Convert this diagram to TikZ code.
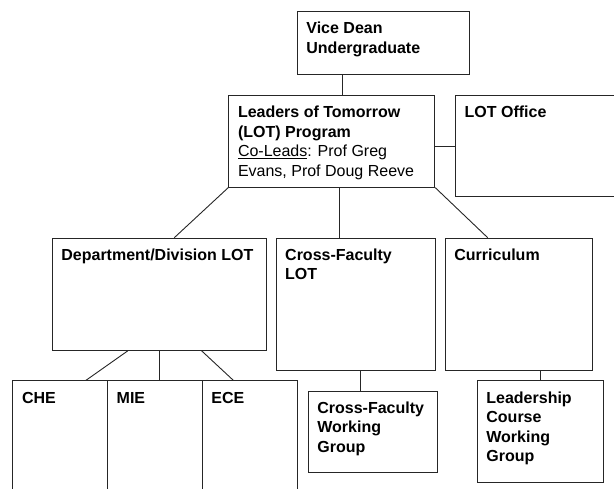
\documentclass[tikz,border=0pt]{standalone}
\usepackage{fontspec}
\setmainfont{Liberation Sans}
% strut that fixes the height of the first line of every label
\newcommand\hdstrut{\rule{0pt}{13pt}}
\begin{document}
\begin{tikzpicture}[x=1pt,y=-1pt,
  box/.style={draw=black!85, line width=0.9pt, inner sep=0pt, anchor=north west},
  txt/.style={anchor=north west, inner sep=0pt, align=left,
              font=\fontsize{16}{19.5}\selectfont\bfseries},
  link/.style={draw=black!85, line width=0.9pt}]
\clip (0,0) rectangle (614,489);

% boxes
\node[box, minimum width=172.6, minimum height=63]    (vd)   at (296.7,11)    {};
\node[box, minimum width=206,   minimum height=91.4]  (lot)  at (228.3,95.3)  {};
\node[box, minimum width=170,   minimum height=100.7] (off)  at (455,95.3)    {};
\node[box, minimum width=214,   minimum height=112.3] (dept) at (51.7,237.7)  {};
\node[box, minimum width=159,   minimum height=132.6] (cfl)  at (275.5,237.7) {};
\node[box, minimum width=147.6, minimum height=132.6] (cur)  at (444.7,237.7) {};
\node[box, minimum width=94.7,  minimum height=120]   (che)  at (12.3,380.3)  {};
\node[box, minimum width=94.7,  minimum height=120]   (mie)  at (107,380.3)   {};
\node[box, minimum width=95,    minimum height=120]   (ece)  at (201.7,380.3) {};
\node[box, minimum width=129.6, minimum height=81.3]  (cfwg) at (307.7,390.7) {};
\node[box, minimum width=126.3, minimum height=101.7] (lcwg) at (476.7,380.3) {};

% labels
\node[txt] (t-vd)   at ([shift={(9.5,9.5)}]vd.north west)   {\hdstrut Vice Dean\\Undergraduate};
\node[txt] (t-lot)  at ([shift={(9.5,9.5)}]lot.north west)  {\hdstrut Leaders of Tomorrow\\(LOT) Program\\
  \mdseries\underline{Co-Leads}: Prof Greg\\\mdseries Evans, Prof Doug Reeve};
\node[txt] (t-off)  at ([shift={(9.5,9.5)}]off.north west)  {\hdstrut LOT Office};
\node[txt] (t-dept) at ([shift={(9.5,9.5)}]dept.north west) {\hdstrut Department/Division LOT};
\node[txt] (t-cfl)  at ([shift={(9.5,9.5)}]cfl.north west)  {\hdstrut Cross-Faculty\\LOT};
\node[txt] (t-cur)  at ([shift={(9.5,9.5)}]cur.north west)  {\hdstrut Curriculum};
\node[txt] (t-che)  at ([shift={(9.5,9.5)}]che.north west)  {\hdstrut CHE};
\node[txt] (t-mie)  at ([shift={(9.5,9.5)}]mie.north west)  {\hdstrut MIE};
\node[txt] (t-ece)  at ([shift={(9.5,9.5)}]ece.north west)  {\hdstrut ECE};
\node[txt] (t-cfwg) at ([shift={(9.5,9.5)}]cfwg.north west) {\hdstrut Cross-Faculty\\Working\\Group};
\node[txt] (t-lcwg) at ([shift={(9.5,9.5)}]lcwg.north west) {\hdstrut Leadership\\Course\\Working\\Group};

% connectors
\draw[link] ([shift={(46,0)}]vd.south west) -- ([shift={(114.4,0)}]lot.north west);
\draw[link] ([shift={(0,51.4)}]lot.north east) -- ([shift={(0,51.4)}]off.north west);
\draw[link] (lot.south west) -- ([shift={(122.6,0)}]dept.north west);
\draw[link] ([shift={(111,0)}]lot.south west) -- ([shift={(63.8,0)}]cfl.north west);
\draw[link] (lot.south east) -- ([shift={(43,0)}]cur.north west);
\draw[link] ([shift={(76,0)}]dept.south west) -- ([shift={(73.7,0)}]che.north west);
\draw[link] ([shift={(108,0)}]dept.south west) -- ([shift={(52.7,0)}]mie.north west);
\draw[link] ([shift={(150,0)}]dept.south west) -- ([shift={(31.6,0)}]ece.north west);
\draw[link] ([shift={(84.5,0)}]cfl.south west) -- ([shift={(52.3,0)}]cfwg.north west);
\draw[link] ([shift={(95.3,0)}]cur.south west) -- ([shift={(63.3,0)}]lcwg.north west);
\end{tikzpicture}
\end{document}
